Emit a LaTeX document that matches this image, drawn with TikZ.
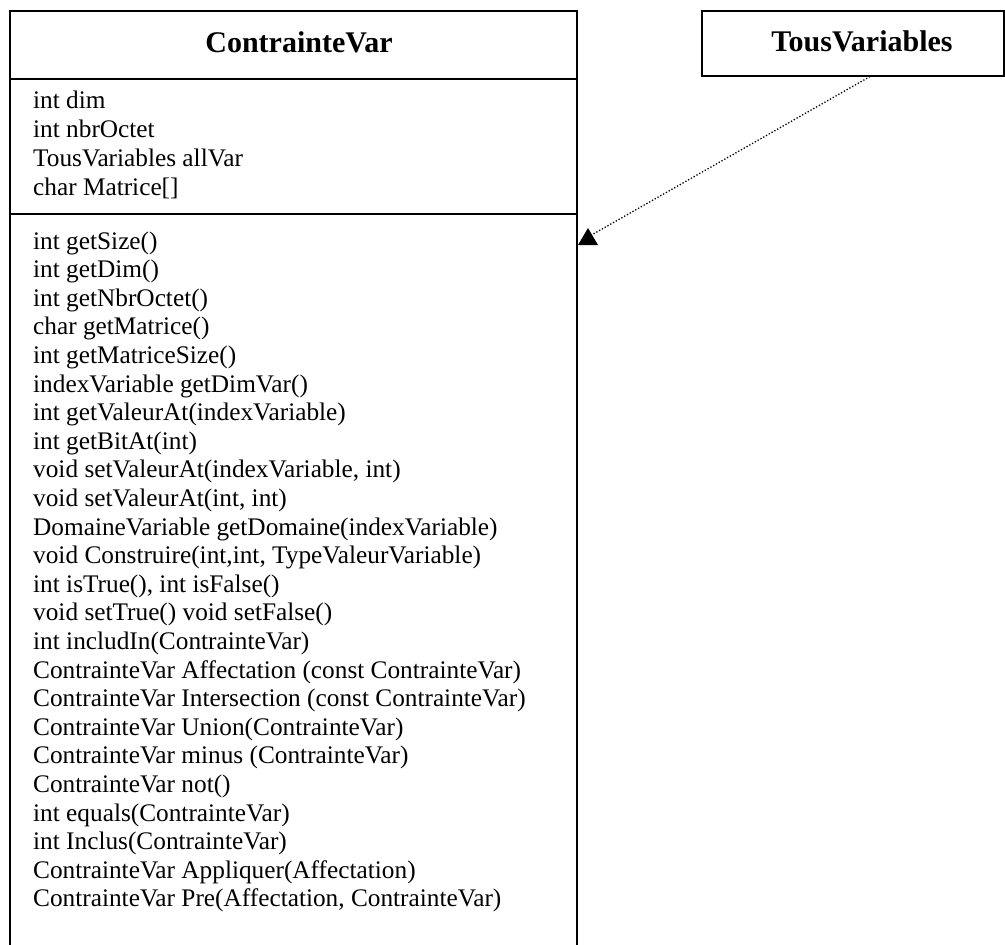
\documentclass[tikz,border=0pt]{standalone}
\usepackage{fontspec}
\setmainfont{Liberation Serif}
\begin{document}
\begin{tikzpicture}[x=1pt,y=-1pt,
  frame/.style={draw=black,line width=1.1pt},
  classname/.style={font=\fontsize{30}{33}\selectfont\bfseries,anchor=base,inner sep=0pt},
  member/.style={font=\fontsize{25.3}{28.6}\selectfont,anchor=base west,inner sep=0pt},
  depend/.style={draw=black,line width=1.3pt,dash pattern=on 1.3pt off 1.9pt}]
\useasboundingbox (0,0) rectangle (1005,945);

% ContrainteVar class: frame open at the bottom
\draw[frame] (10,945) -- (10,11) -- (577,11) -- (577,945);
\draw[frame] (10,79) -- (577,79);
\draw[frame] (10,214) -- (577,214);
\node[classname] (cvname) at (299,52) {ContrainteVar};

% attributes
\foreach [count=\i] \t in {int dim, int nbrOctet, TousVariables allVar, char Matrice[]}
  \node[member] (attr\i) at (33,{108+(\i-1)*29}) {\t};

% operations
\foreach [count=\i] \t in {int getSize(), int getDim(), int getNbrOctet(), char getMatrice(),
  int getMatriceSize(), indexVariable getDimVar(), int getValeurAt(indexVariable),
  int getBitAt(int), {void setValeurAt(indexVariable, int)}, {void setValeurAt(int, int)},
  DomaineVariable getDomaine(indexVariable), {void Construire(int,int, TypeValeurVariable)},
  {int isTrue(), int isFalse()}, void setTrue() void setFalse(), int includIn(ContrainteVar),
  ContrainteVar Affectation (const ContrainteVar), ContrainteVar Intersection (const ContrainteVar),
  ContrainteVar Union(ContrainteVar), ContrainteVar minus (ContrainteVar), ContrainteVar not(),
  int equals(ContrainteVar), int Inclus(ContrainteVar), ContrainteVar Appliquer(Affectation),
  {ContrainteVar Pre(Affectation, ContrainteVar)}}
  \node[member] (op\i) at (33,{249+(\i-1)*28.6}) {\t};

% TousVariables class
\node[frame,minimum width=302pt,minimum height=65pt,inner sep=0pt] (tv) at (853,43.5) {};
\node[classname] (tvname) at (862,51) {TousVariables};

% dependency arrow with its filled triangle head
\coordinate (tip) at (588,237);
\draw[depend] (tv.south -| 870,0) -- (tip);
\fill[black] (578,245) -- (588,228) -- (598,245) -- cycle;
\end{tikzpicture}
\end{document}
